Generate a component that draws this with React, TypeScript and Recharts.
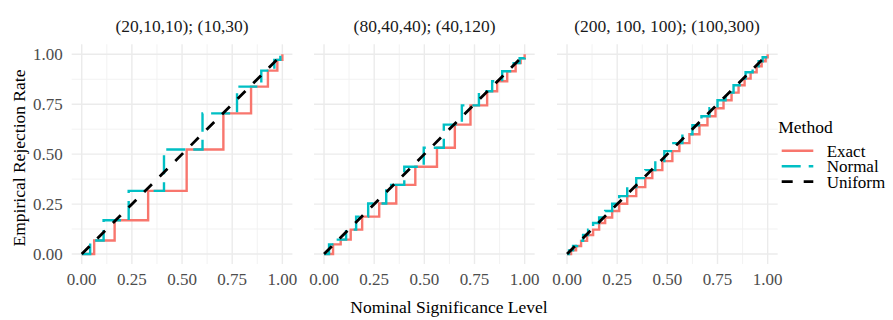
import React from "react";
import {
  LineChart,
  Line,
  XAxis,
  YAxis,
  ReferenceLine,
} from "recharts";

// facet titles
const panelTitles = ["(20,10,10); (10,30)", "(80,40,40); (40,120)", "(200, 100, 100); (100,300)"];

const ticks = [0, 0.25, 0.5, 0.75, 1];
const minorTicks = [0.125, 0.375, 0.625, 0.875];

// Exact test: nominal level -> empirical rejection rate (step points)
const exactX1 = [0, 0.062, 0.164, 0.331, 0.523, 0.706, 0.844, 0.928, 0.975, 1];
const exactY1 = [0, 0.068, 0.169, 0.316, 0.523, 0.704, 0.838, 0.918, 0.972, 1];
const normalX1 = [0, 0.042, 0.109, 0.234, 0.41, 0.602, 0.774, 0.895, 0.96, 0.99, 1];
const normalY1 = [0, 0.068, 0.169, 0.316, 0.523, 0.704, 0.838, 0.918, 0.972, 1, 1];

const exactX2 = [0, 0.045, 0.083, 0.133, 0.19, 0.275, 0.36, 0.455, 0.563, 0.652, 0.73, 0.813, 0.863, 0.913, 0.955, 0.98, 1];
const exactY2 = [0, 0.048, 0.072, 0.122, 0.187, 0.253, 0.346, 0.437, 0.532, 0.648, 0.744, 0.815, 0.865, 0.915, 0.956, 0.98, 1];
const normalX2 = [0, 0.025, 0.06, 0.11, 0.16, 0.22, 0.31, 0.4, 0.497, 0.597, 0.687, 0.772, 0.838, 0.888, 0.945, 0.975, 1];
const normalY2 = [0, 0.048, 0.072, 0.122, 0.187, 0.253, 0.346, 0.437, 0.532, 0.648, 0.744, 0.815, 0.865, 0.915, 0.956, 0.98, 1];

const exactX3 = [0, 0.02, 0.045, 0.07, 0.1, 0.13, 0.16, 0.19, 0.225, 0.26, 0.3, 0.345, 0.39, 0.425, 0.475, 0.525, 0.56, 0.61, 0.66, 0.7, 0.74, 0.78, 0.82, 0.855, 0.885, 0.915, 0.945, 0.97, 0.99, 1];
const exactY3 = [0, 0.018, 0.04, 0.066, 0.095, 0.122, 0.155, 0.183, 0.215, 0.252, 0.29, 0.335, 0.38, 0.42, 0.465, 0.515, 0.555, 0.6, 0.645, 0.69, 0.73, 0.77, 0.808, 0.845, 0.878, 0.91, 0.94, 0.965, 0.985, 1];
const normalX3 = [0, 0.01, 0.03, 0.05, 0.08, 0.105, 0.13, 0.16, 0.19, 0.225, 0.26, 0.3, 0.345, 0.39, 0.44, 0.485, 0.53, 0.575, 0.625, 0.67, 0.71, 0.75, 0.79, 0.83, 0.86, 0.89, 0.925, 0.955, 0.975, 1];
const normalY3 = [0, 0.018, 0.04, 0.066, 0.095, 0.122, 0.155, 0.183, 0.215, 0.252, 0.29, 0.335, 0.38, 0.42, 0.465, 0.515, 0.555, 0.6, 0.645, 0.69, 0.73, 0.77, 0.808, 0.845, 0.878, 0.91, 0.94, 0.965, 0.985, 1];

const uniformX = [0, 1];
const uniformY = [0, 1];

const zip = (xs: number[], ys: number[]) => xs.map((x, i) => ({ x, y: ys[i] }));

const panels = [
  { title: panelTitles[0], exact: zip(exactX1, exactY1), normal: zip(normalX1, normalY1), left: 71.7 },
  { title: panelTitles[1], exact: zip(exactX2, exactY2), normal: zip(normalX2, normalY2), left: 314.2 },
  { title: panelTitles[2], exact: zip(exactX3, exactY3), normal: zip(normalX3, normalY3), left: 556.7 },
];
const uniform = zip(uniformX, uniformY);

const W = 893;
const H = 320;
const PW = 220.7;
const PAD = 20;
const TOP = 44.3;
const BOTTOM = 264;
const XAXIS_H = 30;
const FONT = "'Liberation Serif', 'Times New Roman', serif";
const RED = "#F8766D";
const TEAL = "#00BFC4";
const GRID = "#EBEBEB";
const LW = 2.4;

// each facet is its own chart, placed over its slot
function Panel({ p, idx }: { p: (typeof panels)[number]; idx: number }) {
  const first = idx === 0;
  const yw = first ? p.left : 0;
  const padL = first ? 0 : PAD;
  const x0 = first ? 0 : p.left - PAD;
  const cw = padL + yw + PW + PAD;
  return (
    <div style={{ position: "absolute", left: x0, top: 0, width: cw, height: H }}>
      <LineChart
        width={cw}
        height={H}
        margin={{ top: TOP, bottom: H - BOTTOM - XAXIS_H, left: padL, right: PAD }}
      >
        {minorTicks.map((t) => (
          <ReferenceLine key={"mx" + t} x={t} stroke="#F2F2F2" strokeWidth={1} />
        ))}
        {minorTicks.map((t) => (
          <ReferenceLine key={"my" + t} y={t} stroke="#F2F2F2" strokeWidth={1} />
        ))}
        {ticks.map((t) => (
          <ReferenceLine key={"gx" + t} x={t} stroke={GRID} strokeWidth={1.4} />
        ))}
        {ticks.map((t) => (
          <ReferenceLine key={"gy" + t} y={t} stroke={GRID} strokeWidth={1.4} />
        ))}
        <XAxis
          type="number"
          dataKey="x"
          domain={[-0.05, 1.05]}
          ticks={ticks}
          interval={0}
          allowDataOverflow
          height={XAXIS_H}
          axisLine={false}
          tickLine={false}
          tickSize={0}
          tickMargin={9}
          tickFormatter={(v: number) => v.toFixed(2)}
          tick={{ fontSize: 17, fill: "#4D4D4D", fontFamily: FONT }}
        />
        <YAxis
          type="number"
          dataKey="y"
          domain={[-0.05, 1.05]}
          ticks={ticks}
          interval={0}
          allowDataOverflow
          hide={!first}
          width={yw}
          axisLine={false}
          tickLine={false}
          tickSize={0}
          tickMargin={9}
          tickFormatter={(v: number) => v.toFixed(2)}
          tick={{ fontSize: 17, fill: "#4D4D4D", fontFamily: FONT }}
        />
        <Line
          data={p.exact}
          dataKey="y"
          type="stepAfter"
          stroke={RED}
          strokeWidth={LW}
          dot={false}
          isAnimationActive={false}
        />
        <Line
          data={p.normal}
          dataKey="y"
          type="stepAfter"
          stroke={TEAL}
          strokeWidth={LW}
          strokeDasharray="19 8"
          dot={false}
          isAnimationActive={false}
        />
        <Line
          data={uniform}
          dataKey="y"
          type="linear"
          stroke="#000000"
          strokeWidth={2.8}
          strokeDasharray="11 11"
          dot={false}
          isAnimationActive={false}
        />
      </LineChart>
    </div>
  );
}

const legendItems = [
  { name: "Exact", color: RED, dash: undefined as string | undefined, width: LW },
  { name: "Normal", color: TEAL, dash: "19 8", width: LW },
  { name: "Uniform", color: "#000000", dash: "11 11", width: 2.8 },
];

export default function App() {
  return (
    <div
      style={{
        position: "absolute",
        left: 0,
        top: 0,
        width: W,
        height: H,
        background: "#FFFFFF",
        overflow: "hidden",
      }}
    >
      {panels.map((p, i) => (
        <Panel key={i} p={p} idx={i} />
      ))}
      <svg
        width={W}
        height={H}
        style={{ position: "absolute", left: 0, top: 0, pointerEvents: "none" }}
        fontFamily={FONT}
      >
        {panels.map((p, i) => (
          <text key={i} x={p.left + PW / 2} y={32} textAnchor="middle" fontSize={17.5} fill="#1A1A1A">
            {p.title}
          </text>
        ))}
        <text x={449} y={313} textAnchor="middle" fontSize={17.5} fill="#000">
          Nominal Significance Level
        </text>
        <text
          x={0}
          y={0}
          transform="translate(24.5,158) rotate(-90)"
          textAnchor="middle"
          fontSize={17.5}
          fill="#000"
        >
          Empirical Rejection Rate
        </text>
        <text x={778.3} y={133.3} fontSize={17.5} fill="#000">
          Method
        </text>
        {legendItems.map((it, i) => (
          <g key={it.name}>
            <line
              x1={781.7}
              x2={813.3}
              y1={150.7 + i * 15.5}
              y2={150.7 + i * 15.5}
              stroke={it.color}
              strokeWidth={it.width}
              strokeDasharray={it.dash}
            />
            <text x={826.7} y={156.7 + i * 15.5} fontSize={17} fill="#000">
              {it.name}
            </text>
          </g>
        ))}
      </svg>
    </div>
  );
}
